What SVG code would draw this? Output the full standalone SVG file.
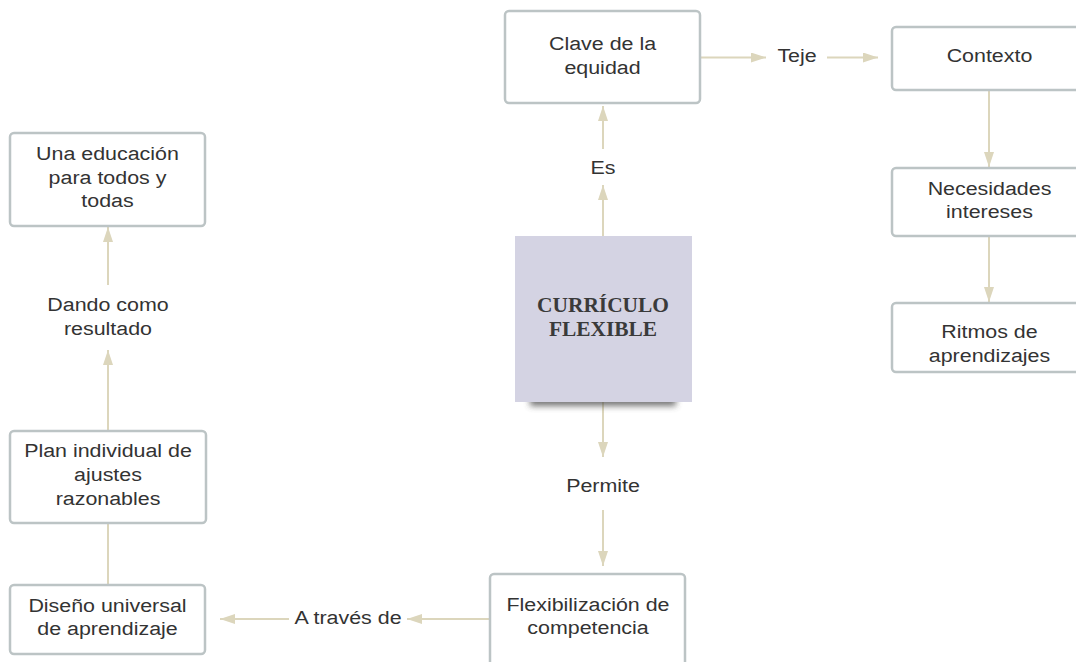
<svg xmlns="http://www.w3.org/2000/svg" width="1076" height="662" viewBox="0 0 1076 662">
  <style>
    .box { fill: #ffffff; stroke: #bcc4c5; stroke-width: 2.5; }
    .t { font-family: "Liberation Sans", Arial, sans-serif; font-size: 18px; fill: #333333; text-anchor: middle; }
    .ts { font-family: "Liberation Serif", "Times New Roman", serif; font-size: 20px; font-weight: bold; fill: #3a3a3a; text-anchor: middle; }
    .c { fill: none; stroke: #dcd6bc; stroke-width: 2; }
    .ca { fill: none; stroke: #dcd6bc; stroke-width: 2; marker-end: url(#arr); }
  </style>
  <defs>
    <marker id="arr" markerUnits="userSpaceOnUse" markerWidth="15" markerHeight="10" refX="15" refY="5" orient="auto">
      <path d="M0,0 L15,5 L0,10 z" fill="#dcd6bc"/>
    </marker>
    <filter id="blur" x="-20%" y="-100%" width="140%" height="300%">
      <feGaussianBlur stdDeviation="3"/>
    </filter>
  </defs>
  <rect x="0" y="0" width="1076" height="662" fill="#ffffff"/>

  <g id="connectors">
    <line class="ca" x1="603" y1="236" x2="603" y2="185"/>
    <line class="ca" x1="603" y1="149" x2="603" y2="106"/>
    <g transform="translate(603,0) scale(1.19,1)"><text class="t" x="0" y="174">Es</text></g>

    <line class="ca" x1="701" y1="57.5" x2="766" y2="57.5"/>
    <line class="ca" x1="827" y1="57.5" x2="878" y2="57.5"/>
    <g transform="translate(797,0) scale(1.19,1)"><text class="t" x="0" y="62">Teje</text></g>

    <line class="ca" x1="989" y1="90" x2="989" y2="167"/>
    <line class="ca" x1="989" y1="236" x2="989" y2="302"/>

    <line class="ca" x1="603" y1="402" x2="603" y2="457"/>
    <line class="ca" x1="603" y1="510" x2="603" y2="566"/>
    <g transform="translate(603,0) scale(1.19,1)"><text class="t" x="0" y="492">Permite</text></g>

    <line class="ca" x1="490" y1="619" x2="407" y2="619"/>
    <line class="ca" x1="289" y1="619" x2="220" y2="619"/>
    <g transform="translate(348,0) scale(1.19,1)"><text class="t" x="0" y="624">A través de</text></g>

    <line class="c" x1="108" y1="585" x2="108" y2="523"/>
    <line class="ca" x1="108" y1="431" x2="108" y2="350"/>
    <line class="ca" x1="108" y1="285" x2="108" y2="227"/>
    <g transform="translate(108,0) scale(1.19,1)">
      <text class="t" x="0" y="311">Dando como</text>
      <text class="t" x="0" y="335">resultado</text>
    </g>
  </g>

  <g id="n-curriculo">
    <rect x="530" y="394" width="146" height="12" fill="#4a4a4a" opacity="0.75" filter="url(#blur)"/>
    <rect x="515" y="236" width="177" height="166" fill="#d4d3e3"/>
    <g transform="translate(603,0) scale(1.07,1)">
      <text class="ts" x="0" y="312">CURRÍCULO</text>
      <text class="ts" x="0" y="336">FLEXIBLE</text>
    </g>
  </g>

  <g id="n-clave">
    <rect class="box" x="505" y="11" width="195" height="92" rx="4"/>
    <g transform="translate(602.5,0) scale(1.19,1)">
      <text class="t" x="0" y="50">Clave de la</text>
      <text class="t" x="0" y="74">equidad</text>
    </g>
  </g>

  <g id="n-contexto">
    <rect class="box" x="892" y="27" width="195" height="63" rx="4"/>
    <g transform="translate(989.5,0) scale(1.19,1)">
      <text class="t" x="0" y="62">Contexto</text>
    </g>
  </g>

  <g id="n-necesidades">
    <rect class="box" x="892" y="168" width="195" height="68" rx="4"/>
    <g transform="translate(989.5,0) scale(1.19,1)">
      <text class="t" x="0" y="195">Necesidades</text>
      <text class="t" x="0" y="218">intereses</text>
    </g>
  </g>

  <g id="n-ritmos">
    <rect class="box" x="892" y="303" width="195" height="69" rx="4"/>
    <g transform="translate(989.5,0) scale(1.19,1)">
      <text class="t" x="0" y="338">Ritmos de</text>
      <text class="t" x="0" y="362">aprendizajes</text>
    </g>
  </g>

  <g id="n-educacion">
    <rect class="box" x="10" y="133" width="195" height="93" rx="4"/>
    <g transform="translate(107.5,0) scale(1.19,1)">
      <text class="t" x="0" y="160">Una educación</text>
      <text class="t" x="0" y="184">para todos y</text>
      <text class="t" x="0" y="207">todas</text>
    </g>
  </g>

  <g id="n-plan">
    <rect class="box" x="10" y="431" width="196" height="92" rx="4"/>
    <g transform="translate(108,0) scale(1.19,1)">
      <text class="t" x="0" y="457">Plan individual de</text>
      <text class="t" x="0" y="481">ajustes</text>
      <text class="t" x="0" y="505">razonables</text>
    </g>
  </g>

  <g id="n-diseno">
    <rect class="box" x="10" y="585" width="195" height="69" rx="4"/>
    <g transform="translate(107.5,0) scale(1.19,1)">
      <text class="t" x="0" y="612">Diseño universal</text>
      <text class="t" x="0" y="635">de aprendizaje</text>
    </g>
  </g>

  <g id="n-flexibilizacion">
    <rect class="box" x="490" y="574" width="195" height="106" rx="4"/>
    <g transform="translate(588,0) scale(1.19,1)">
      <text class="t" x="0" y="611">Flexibilización de</text>
      <text class="t" x="0" y="634">competencia</text>
    </g>
  </g>
</svg>
